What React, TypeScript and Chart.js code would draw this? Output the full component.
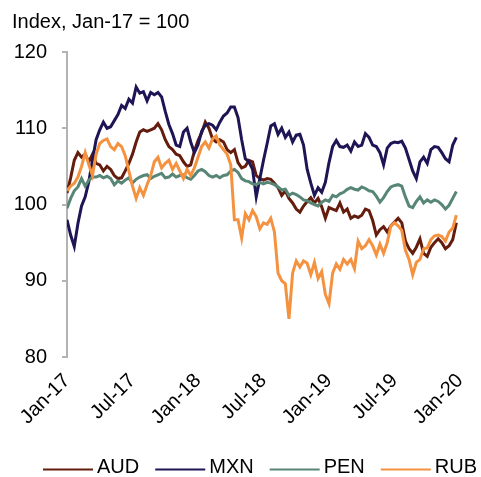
import React, { useEffect, useRef } from 'react';
import { Chart, registerables } from 'chart.js';

Chart.register(...registerables);

// ---- data ----
const tickLabels = ['Jan-17', 'Jul-17', 'Jan-18', 'Jul-18', 'Jan-19', 'Jul-19', 'Jan-20'];
const seriesNames = ['AUD', 'MXN', 'PEN', 'RUB'];
const pointsPerMonth = 3; // observations every ~10 days, starting Jan-17

const aud = [
  101.5, 103.5, 105.8, 106.8, 106.2, 106.6, 105.6, 106.6, 105.4, 105.2,
  104.4, 105.0, 104.6, 103.8, 103.4, 103.5, 104.4, 105.4, 106.6, 108.2,
  109.5, 109.8, 109.6, 109.8, 110.0, 110.6, 109.8, 108.5, 107.6, 107.2,
  106.6, 106.4, 105.6, 105.0, 105.2, 107.0, 108.4, 109.4, 110.8, 110.0,
  108.6, 108.2, 108.5, 108.2, 107.2, 106.8, 107.2, 105.5, 104.8, 105.0,
  105.8, 105.6, 103.8, 103.4, 103.2, 103.4, 103.3, 102.8, 102.2, 101.2,
  101.8, 100.8, 100.2, 99.4, 99.0, 99.8, 100.4, 100.9, 100.2, 100.8,
  99.7, 98.2, 99.6, 99.4, 99.2, 100.2, 99.0, 99.4, 98.2, 98.5,
  98.3, 98.6, 99.4, 99.2, 97.9, 96.0, 96.7, 97.1, 96.4, 97.2,
  97.7, 98.2, 97.6, 95.2, 94.2, 93.6, 94.4, 95.5, 93.6, 93.2,
  94.4, 95.0, 95.5, 95.0, 94.2, 94.6, 95.4, 97.6,
];

const mxn = [
  98.0, 96.0, 94.5, 97.5, 99.8, 101.0, 103.0, 105.8, 108.5, 109.8,
  110.8, 110.0, 110.2, 111.0, 111.8, 113.0, 112.6, 113.8, 113.3, 115.4,
  114.6, 114.8, 113.6, 114.7, 114.4, 114.7, 114.1, 112.2, 110.5, 109.3,
  107.8, 107.6, 109.5, 110.0, 108.2, 106.8, 107.8, 109.6, 110.4, 110.6,
  110.4, 109.8, 110.8, 111.6, 112.0, 112.8, 112.8, 111.4, 108.5, 106.0,
  105.6, 104.6, 101.0, 103.4, 105.8, 108.0, 110.3, 110.6, 109.2, 110.0,
  108.8, 109.5, 108.2, 109.1, 109.2, 107.8, 104.6, 102.8, 101.2, 102.2,
  101.6, 102.9, 105.5, 107.6, 108.4, 107.6, 107.5, 107.8, 107.0, 108.2,
  107.6, 107.8, 109.3, 108.8, 107.8, 107.6, 106.8, 105.2, 107.4, 108.0,
  108.2, 108.1, 108.3, 107.4, 105.9, 104.4, 103.4, 105.6, 106.2, 105.4,
  107.2, 107.6, 107.5, 106.8, 106.0, 105.6, 107.8, 108.8,
];

const pen = [
  99.5, 100.8, 101.8, 102.3, 103.4, 102.4, 103.2, 103.6, 103.6, 103.8,
  103.5, 103.7, 103.4, 102.6, 103.1, 102.8, 103.2, 103.5, 102.8, 103.3,
  103.6, 103.8, 103.9, 103.4, 103.7, 103.9, 104.1, 103.5, 103.6, 104.0,
  103.6, 103.8, 103.9, 103.5, 103.3, 103.8, 104.4, 104.6, 104.3, 103.8,
  103.6, 103.8, 103.5, 103.8, 103.9, 104.4, 104.6, 104.2, 103.4, 103.1,
  103.0, 102.7, 102.6, 102.9, 102.7, 102.9, 102.8, 102.6, 102.3, 101.9,
  102.0, 101.2, 101.5, 101.3, 101.0, 100.6, 100.5, 100.2, 100.0, 99.8,
  100.3, 100.6, 100.4, 101.2, 101.0, 101.4, 101.6, 102.0, 102.2, 102.0,
  101.9, 102.3, 102.1, 101.8, 101.7, 101.1, 100.3, 100.9, 101.7, 102.3,
  102.5, 102.6, 102.4, 101.0, 99.8, 99.6, 100.4, 101.0, 100.2, 100.6,
  100.3, 100.6, 100.4, 100.0, 99.4, 99.9, 100.8, 101.7,
];

const rub = [
  101.8, 102.4, 102.8, 103.6, 105.0, 106.8, 105.2, 103.8, 106.6, 108.0,
  108.4, 108.6, 107.6, 107.2, 108.0, 107.6, 106.4, 104.4, 102.4, 100.8,
  102.2, 101.2, 102.6, 103.8, 105.6, 106.2, 104.8, 105.4, 105.8, 104.6,
  105.4, 104.4, 103.4, 104.6, 103.8, 104.8, 106.2, 107.6, 108.2, 107.4,
  108.6, 109.0, 107.8, 107.2, 106.6, 105.2, 98.0, 98.0, 95.6, 98.8,
  98.0, 99.2, 98.4, 96.8, 97.6, 97.4, 98.2, 96.4, 91.0, 90.0,
  89.6, 85.0, 91.0, 92.6, 91.8, 92.6, 92.3, 90.8, 92.4, 90.3,
  91.2, 88.2, 87.0, 91.0, 92.2, 91.5, 92.8, 92.2, 92.8, 91.6,
  95.2, 94.2, 94.6, 95.4, 94.6, 93.4, 94.8, 93.6, 95.0, 97.2,
  97.6, 97.2, 96.6, 94.0, 92.8, 90.8, 92.4, 92.8, 94.2, 94.3,
  95.4, 95.9, 96.0, 95.8, 95.2, 96.4, 96.9, 98.6,
];

const seriesValues = [aud, mxn, pen, rub];

// ---- styles ----
const seriesColors = ['#641c0c', '#1e1555', '#588676', '#f49240'];
const drawOrder = [3, 2, 1, 0]; // RUB drawn on top, as in the reference
const FONT = '"Liberation Sans", Arial, sans-serif';
const AXIS_GREY = '#b3b3b3';

const lineLegend = {
  id: 'lineLegend',
  afterDraw(chart: any) {
    const ctx = chart.ctx as CanvasRenderingContext2D;
    ctx.save();
    ctx.font = `20px ${FONT}`;
    ctx.textBaseline = 'middle';
    ctx.textAlign = 'left';
    let x = 43;
    const yText = 467;
    const yLine = 469.5;
    chart.data.datasets.forEach((ds: any) => {
      ctx.strokeStyle = ds.borderColor;
      ctx.lineWidth = 2;
      ctx.beginPath();
      ctx.moveTo(x, yLine);
      ctx.lineTo(x + 50, yLine);
      ctx.stroke();
      ctx.fillStyle = '#000';
      ctx.fillText(ds.label, x + 54, yText);
      x += 54 + ctx.measureText(ds.label).width + 16;
    });
    ctx.restore();
  },
};

export default function App() {
  const canvasRef = useRef<HTMLCanvasElement | null>(null);

  useEffect(() => {
    document.body.style.margin = '0';
    const canvas = canvasRef.current;
    if (!canvas) return;

    const datasets = seriesNames.map((name, k) => ({
      label: name,
      data: seriesValues[k].map((v, i) => ({ x: i / pointsPerMonth, y: v })),
      borderColor: seriesColors[k],
      backgroundColor: seriesColors[k],
      borderWidth: 3,
      pointRadius: 0,
      tension: 0,
      fill: false,
      order: drawOrder[k],
    }));

    const chart = new Chart(canvas, {
      type: 'line',
      data: { datasets },
      plugins: [lineLegend],
      options: {
        animation: false,
        responsive: true,
        maintainAspectRatio: false,
        layout: { padding: { left: 12, right: 21, top: 0, bottom: 40 } },
        font: { family: FONT } as any,
        plugins: {
          legend: { display: false },
          tooltip: { enabled: false },
          title: {
            display: true,
            text: 'Index, Jan-17 = 100',
            align: 'start',
            color: '#000',
            font: { family: FONT, size: 20, weight: 'normal' },
            padding: { top: 10, bottom: 18 },
          },
        },
        scales: {
          x: {
            type: 'linear',
            min: 0,
            max: 36,
            grid: { display: false },
            border: { display: false },
            ticks: {
              stepSize: 6,
              autoSkip: false,
              maxRotation: 45,
              minRotation: 45,
              padding: 4,
              color: '#000',
              font: { family: FONT, size: 20 },
              callback: (v: any) => tickLabels[Math.round(Number(v) / 6)] ?? '',
            },
            afterFit: (s: any) => {
              s.height = 80;
            },
          },
          y: {
            min: 80,
            max: 120,
            grid: {
              display: true,
              drawOnChartArea: false,
              drawTicks: true,
              tickLength: 5,
              color: AXIS_GREY,
              lineWidth: 2,
            },
            border: { display: true, color: AXIS_GREY, width: 2 },
            ticks: {
              stepSize: 10,
              padding: 15,
              color: '#000',
              font: { family: FONT, size: 20 },
            },
            afterFit: (s: any) => {
              s.width = 55;
            },
          },
        },
      },
    });

    return () => chart.destroy();
  }, []);

  return (
    <div style={{ position: 'relative', width: 481, height: 477 }}>
      <canvas ref={canvasRef} />
    </div>
  );
}
